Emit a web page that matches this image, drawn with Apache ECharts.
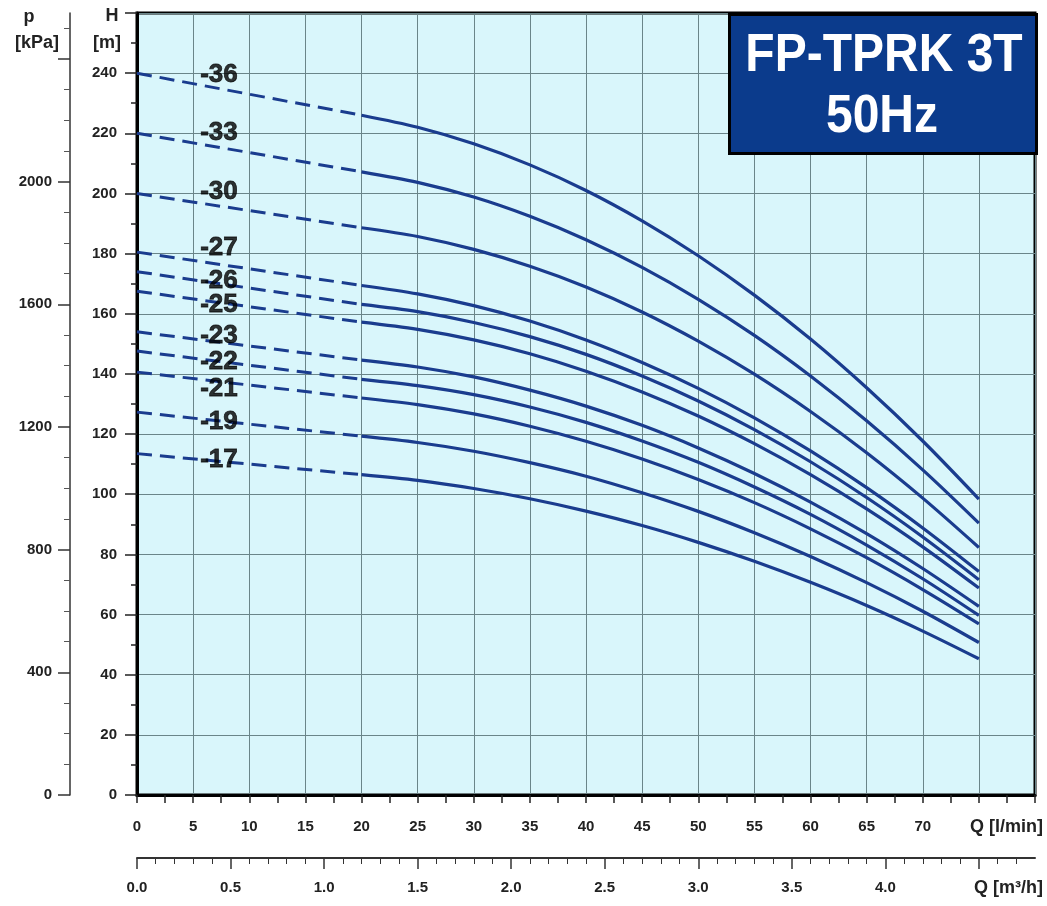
<!DOCTYPE html>
<html><head><meta charset="utf-8">
<script src="https://cdn.jsdelivr.net/npm/echarts@6/dist/echarts.min.js"></script>
<style>html,body{margin:0;padding:0;background:#fff}#c{width:1047px;height:906px}</style>
</head><body><div id="c"></div>
<script>
// Flow points (l/min); first segment 0-20 is dashed, rest solid
const flowLmin = [0, 20, 25, 30, 35, 40, 45, 50, 55, 60, 65, 70, 75];
const curveNames = ['-36','-33','-30','-27','-26','-25','-23','-22','-21','-19','-17'];
const h36 = [240.0, 226.0, 222.0, 216.5, 209.5, 201.0, 190.9, 179.3, 166.2, 151.6, 135.4, 117.7, 98.4];
const h33 = [220.0, 207.2, 203.7, 198.8, 192.4, 184.6, 175.4, 164.8, 152.8, 139.3, 124.4, 108.1, 90.4];
const h30 = [200.0, 188.6, 185.7, 181.4, 175.8, 168.9, 160.6, 150.9, 139.9, 127.5, 113.8, 98.7, 82.3];
const h27 = [180.5, 169.4, 166.6, 162.7, 157.6, 151.3, 143.8, 135.2, 125.4, 114.4, 102.2, 88.8, 74.3];
const h26 = [174.0, 163.1, 160.7, 157.1, 152.4, 146.5, 139.3, 131.0, 121.5, 110.8, 98.9, 85.8, 71.6];
const h25 = [167.5, 157.2, 154.8, 151.3, 146.7, 140.9, 134.0, 126.0, 116.8, 106.5, 95.1, 82.5, 68.8];
const h23 = [154.0, 144.6, 142.3, 139.0, 134.6, 129.3, 122.9, 115.4, 106.9, 97.4, 86.9, 75.3, 62.7];
const h22 = [147.6, 138.2, 136.1, 133.1, 129.0, 123.9, 117.7, 110.6, 102.4, 93.3, 83.1, 71.9, 59.7];
const h21 = [140.6, 132.0, 129.8, 126.7, 122.6, 117.6, 111.7, 104.9, 97.2, 88.5, 78.9, 68.3, 56.9];
const h19 = [127.3, 119.3, 117.2, 114.3, 110.5, 106.0, 100.5, 94.3, 87.2, 79.3, 70.6, 61.1, 50.7];
const h17 = [113.5, 106.5, 104.6, 101.9, 98.5, 94.4, 89.6, 84.0, 77.7, 70.7, 63.0, 54.5, 45.3];
const curves = [h36, h33, h30, h27, h26, h25, h23, h22, h21, h19, h17];
// curve label anchors (in data units)
const labelQ = [7.3, 7.3, 7.3, 7.3, 7.3, 7.3, 7.3, 7.3, 7.3, 7.3, 7.3];
const labelH = [239.3, 220.0, 200.7, 182.0, 171.0, 163.0, 152.8, 144.0, 135.0, 124.0, 111.5];
const titleLines = ['FP-TPRK 3T', '50Hz'];
const pTicks = [0, 400, 800, 1200, 1600, 2000, 2400];
const qm3Ticks = [0, 0.5, 1.0, 1.5, 2.0, 2.5, 3.0, 3.5, 4.0, 4.5];

const KPA_PER_M = 9.80665;
const H_MAX = 260, Q_MAX = 80;
const LINE = '#1a3c8e';
const FONT = 'Liberation Sans, Arial, sans-serif';
const tickLbl = {color:'#222', fontWeight:'bold', fontSize:15, fontFamily:FONT};

const series = [];
curves.forEach((h, i) => {
  series.push({
    type:'line', xAxisIndex:0, yAxisIndex:0, symbol:'none', silent:true, z:3,
    lineStyle:{color:LINE, width:3, type:[15,8]},
    data:[[flowLmin[0], h[0]], [flowLmin[1], h[1]]]
  });
  series.push({
    type:'line', xAxisIndex:0, yAxisIndex:0, symbol:'none', silent:true, smooth:0.3, z:3,
    lineStyle:{color:LINE, width:3.2},
    data: flowLmin.slice(1).map((q, k) => [q, h[k+1]])
  });
});
series.push({
  type:'scatter', xAxisIndex:0, yAxisIndex:0, symbolSize:1, silent:true, z:10,
  itemStyle:{color:'rgba(0,0,0,0)'},
  data: curveNames.map((n, i) => ({value:[labelQ[i], labelH[i]], name:n})),
  label:{show:true, position:'inside', formatter:p => p.name, color:'#000',
         textBorderWidth:0.8, textBorderColor:'#000',
         fontSize:26, fontWeight:'bold', fontFamily:FONT}
});
series.push({type:'line', xAxisIndex:1, yAxisIndex:2, data:[]});

const chart = echarts.init(document.getElementById('c'), null, {renderer:'canvas'});
chart.setOption({
  animation:false,
  backgroundColor:'#fff',
  grid:[
    {left:137, top:13, width:898, height:782, show:true, backgroundColor:'#d9f6fb', borderColor:'#000', borderWidth:3},
    {left:137, top:857, width:898, height:1, show:false}
  ],
  xAxis:[
    {type:'value', gridIndex:0, min:0, max:Q_MAX, interval:5,
     axisLine:{show:true, onZero:false, lineStyle:{color:'#000', width:3}},
     axisTick:{show:true, length:8, lineStyle:{color:'#222', width:1.5}},
     minorTick:{show:true, splitNumber:2, length:8, lineStyle:{color:'#222', width:1.5}},
     splitLine:{show:true, lineStyle:{color:'#6a8589', width:1}},
     axisLabel:{...tickLbl, margin:24, formatter:v => v <= 70 ? String(v) : ''}},
    {type:'value', gridIndex:1, min:0, max:Q_MAX*0.06, interval:0.5,
     axisLine:{show:true, onZero:false, lineStyle:{color:'#333', width:2}},
     axisTick:{show:true, length:11, customValues:qm3Ticks, lineStyle:{color:'#333', width:1.5}},
     minorTick:{show:true, splitNumber:5, length:6, lineStyle:{color:'#333', width:1}},
     splitLine:{show:false},
     axisLabel:{...tickLbl, margin:22, formatter:v => (v <= 4.01 && Math.abs(v*2 - Math.round(v*2)) < 1e-6) ? v.toFixed(1) : ''}}
  ],
  yAxis:[
    {type:'value', gridIndex:0, min:0, max:H_MAX, interval:20, position:'left',
     axisLine:{show:true, onZero:false, lineStyle:{color:'#000', width:3}},
     axisTick:{show:true, length:12, lineStyle:{color:'#222', width:1.5}},
     minorTick:{show:true, splitNumber:2, length:6, lineStyle:{color:'#222', width:1.5}},
     splitLine:{show:true, lineStyle:{color:'#6a8589', width:1}},
     axisLabel:{...tickLbl, margin:20, formatter:v => v <= 240 ? String(v) : ''}},
    {type:'value', gridIndex:0, min:0, max:H_MAX*KPA_PER_M, interval:400, position:'left', offset:67,
     axisLine:{show:true, onZero:false, lineStyle:{color:'#333', width:1.5}},
     axisTick:{show:true, length:12, customValues:pTicks, lineStyle:{color:'#333', width:1.5}},
     minorTick:{show:true, splitNumber:4, length:6, lineStyle:{color:'#555', width:1}},
     splitLine:{show:false},
     axisLabel:{...tickLbl, margin:18, formatter:v => (v <= 2000 && v % 400 === 0) ? String(v) : ''}},
    {type:'value', gridIndex:1, show:false, min:0, max:1}
  ],
  graphic:[
    {type:'rect', left:728, top:13, z:100, shape:{width:307, height:139},
     style:{fill:'#0b3b8c', stroke:'#000', lineWidth:3}},
    {type:'text', x:884, y:56, z:101, scaleY:1.12, style:{text:titleLines[0], fill:'#fff', font:'bold 48px '+FONT, textAlign:'center', textVerticalAlign:'middle'}},
    {type:'text', x:882, y:117, z:101, scaleY:1.12, style:{text:titleLines[1], fill:'#fff', font:'bold 48px '+FONT, textAlign:'center', textVerticalAlign:'middle'}},
    {type:'text', x:29, y:17, style:{text:'p', fill:'#222', font:'bold 18px '+FONT, textAlign:'center', textVerticalAlign:'middle'}},
    {type:'text', x:37, y:43, style:{text:'[kPa]', fill:'#222', font:'bold 18px '+FONT, textAlign:'center', textVerticalAlign:'middle'}},
    {type:'text', x:112, y:16, style:{text:'H', fill:'#222', font:'bold 18px '+FONT, textAlign:'center', textVerticalAlign:'middle'}},
    {type:'text', x:107, y:43, style:{text:'[m]', fill:'#222', font:'bold 18px '+FONT, textAlign:'center', textVerticalAlign:'middle'}},
    {type:'text', x:1043, y:827, style:{text:'Q [l/min]', fill:'#222', font:'bold 18px '+FONT, textAlign:'right', textVerticalAlign:'middle'}},
    {type:'text', x:1043, y:888, style:{text:'Q [m³/h]', fill:'#222', font:'bold 18px '+FONT, textAlign:'right', textVerticalAlign:'middle'}}
  ],
  series: series
});
</script>
</body></html>
